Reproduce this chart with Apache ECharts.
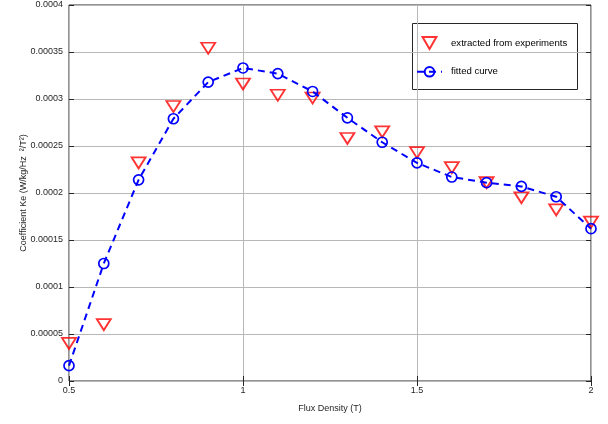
<!DOCTYPE html>
<html><head><meta charset="utf-8">
<script src="https://cdn.jsdelivr.net/npm/echarts@6/dist/echarts.min.js"></script>
<style>html,body{margin:0;padding:0;background:#fff}#c{width:608px;height:424px}</style>
</head><body><div id="c"></div>
<script>
const fluxDensity = [0.5,0.6,0.7,0.8,0.9,1.0,1.1,1.2,1.3,1.4,1.5,1.6,1.7,1.8,1.9,2.0];
const experimentKe = [0.00004,0.00006,0.000232,0.000292,0.000354,0.000316,0.000304,0.000301,0.000258,0.000265,0.000243,0.000227,0.000211,0.000195,0.000182,0.000169];
const fittedKe = [0.0000163,0.000125,0.000214,0.000279,0.000318,0.000333,0.000327,0.000308,0.00028,0.000254,0.000232,0.000217,0.000211,0.000207,0.000196,0.000162];
const yTickLabels = ['0','0.00005','0.0001','0.00015','0.0002','0.00025','0.0003','0.00035','0.0004'];
const xTickLabels = ['0.5','1','1.5','2'];

const FONT = 'Liberation Sans, Arial, Helvetica, sans-serif';
const AX = '#262626';
const chart = echarts.init(document.getElementById('c'));
const tri = 'path://M0,0L10,0L5,8.66Z';
const pair = (xs, ys) => xs.map((x, i) => [x, ys[i]]);

chart.setOption({
  animation: false,
  backgroundColor: '#fff',
  grid: { left: 69, right: 17, top: 5, bottom: 43, show: true, borderColor: AX, borderWidth: 1, backgroundColor: 'transparent' },
  xAxis: [{
    type: 'value', min: 0.5, max: 2, interval: 0.5,
    name: 'Flux Density (T)', nameLocation: 'middle', nameGap: 23, nameMoveOverlap: false,
    nameTextStyle: { fontFamily: FONT, fontSize: 9, color: AX },
    axisLine: { show: false },
    axisTick: { show: true, inside: true, length: 5, lineStyle: { color: AX } },
    axisLabel: { fontFamily: FONT, fontSize: 9, color: AX, margin: 5,
      formatter: v => xTickLabels[Math.round((v - 0.5) / 0.5)] },
    splitLine: { show: true, lineStyle: { color: '#b8b8b8', width: 1 } }
  }, {
    type: 'value', min: 0.5, max: 2, interval: 0.5, position: 'top',
    axisLine: { show: false }, axisLabel: { show: false },
    axisTick: { show: true, inside: true, length: 5, lineStyle: { color: AX } },
    splitLine: { show: false }
  }],
  yAxis: [{
    type: 'value', min: 0, max: 0.0004, interval: 0.00005,
    name: 'Coefficient Ke (W/kg/Hz  ²/T²)', nameLocation: 'middle', nameGap: 41, nameMoveOverlap: false,
    nameTextStyle: { fontFamily: FONT, fontSize: 9, color: AX },
    axisLine: { show: false },
    axisTick: { show: true, inside: true, length: 5, lineStyle: { color: AX } },
    axisLabel: { fontFamily: FONT, fontSize: 9, color: AX, margin: 6,
      formatter: v => yTickLabels[Math.round(v / 0.00005)] },
    splitLine: { show: true, lineStyle: { color: '#b8b8b8', width: 1 } }
  }, {
    type: 'value', min: 0, max: 0.0004, interval: 0.00005, position: 'right',
    axisLine: { show: false }, axisLabel: { show: false },
    axisTick: { show: true, inside: true, length: 5, lineStyle: { color: AX } },
    splitLine: { show: false }
  }],
  legend: {
    orient: 'vertical', left: 416, top: 36, padding: 0,
    itemWidth: 25, itemHeight: 12, itemGap: 16,
    textStyle: { fontFamily: FONT, fontSize: 9.6, color: '#000', padding: [0, 0, 0, 4] },
    data: [
      { name: 'extracted from experiments', icon: tri },
      { name: 'fitted curve' }
    ]
  },
  graphic: [{
    type: 'rect', left: 412, top: 23, z: 0,
    shape: { width: 165, height: 66 },
    style: { fill: '#fff', stroke: AX, lineWidth: 1 }
  }],
  series: [{
    name: 'extracted from experiments', type: 'scatter',
    data: pair(fluxDensity, experimentKe),
    symbol: tri, symbolSize: [14, 11], symbolKeepAspect: false,
    itemStyle: { color: 'rgba(0,0,0,0)', borderColor: '#ff0000', borderWidth: 1.8 },
    z: 3
  }, {
    name: 'fitted curve', type: 'line',
    data: pair(fluxDensity, fittedKe),
    symbol: 'circle', symbolSize: 10, showAllSymbol: true,
    itemStyle: { color: 'rgba(0,0,0,0)', borderColor: '#0000ff', borderWidth: 1.7 },
    lineStyle: { color: '#0000ff', width: 2, type: [7, 5] },
    z: 4
  }]
});
</script></body></html>
